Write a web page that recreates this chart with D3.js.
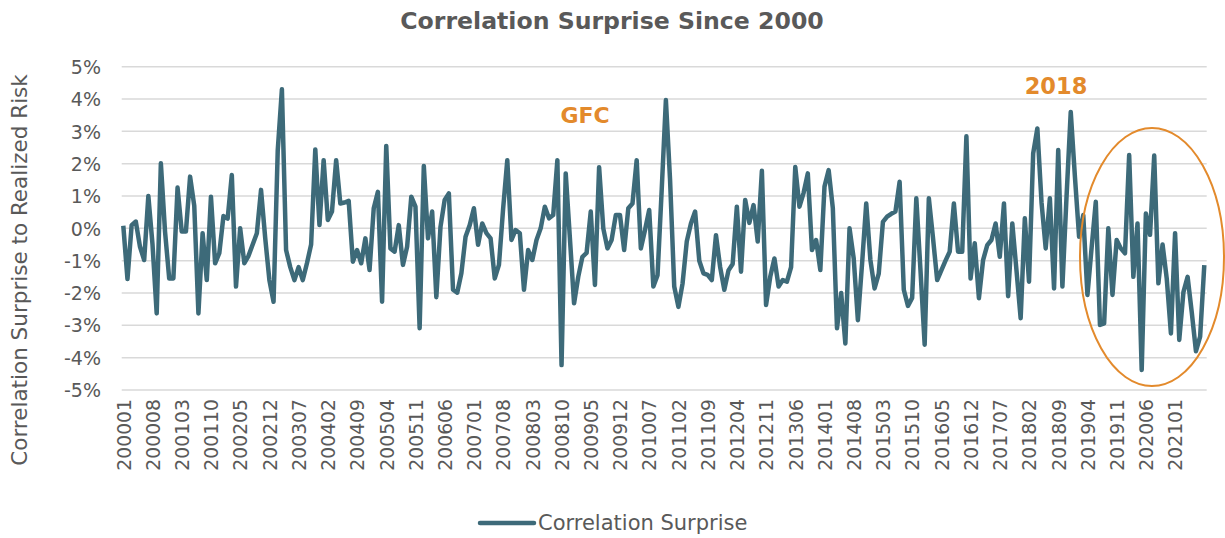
<!DOCTYPE html>
<html>
<head>
<meta charset="utf-8">
<script src="https://cdn.jsdelivr.net/npm/d3@7"></script>
<style>
  body { margin: 0; background: #fff; }
  text { font-family: "DejaVu Sans", Verdana, sans-serif; }
</style>
</head>
<body>
<svg id="chart"></svg>
<script>
// monthly categories 200001 .. 202108
var months = [];
for (var y = 2000; y <= 2021; y++) {
  for (var m = 1; m <= 12; m++) {
    if (y === 2021 && m > 8) break;
    months.push(String(y) + (m < 10 ? "0" + m : m));
  }
}

var tickLabels = ["200001","200008","200103","200110","200205","200212","200307","200402","200409",
  "200504","200511","200606","200701","200708","200803","200810","200905","200912","201007","201102",
  "201109","201204","201211","201306","201401","201408","201503","201510","201605","201612","201707",
  "201802","201809","201904","201911","202006","202101"];

var yTicks = [5, 4, 3, 2, 1, 0, -1, -2, -3, -4, -5];

// correlation surprise, %
var surprise = [
  0.08, -1.57, 0.10, 0.21, -0.57, -0.98, 1.00, -0.50, -2.63, 2.01,
  -0.10, -1.55, -1.55, 1.26, -0.10, -0.10, 1.60, 0.70, -2.63, -0.15,
  -1.60, 0.98, -1.08, -0.77, 0.38, 0.30, 1.65, -1.80, 0.00, -1.08,
  -0.85, -0.50, -0.15, 1.19, -0.30, -1.60, -2.27, 2.40, 4.30, -0.67,
  -1.20, -1.60, -1.20, -1.60, -1.08, -0.50, 2.44, 0.10, 2.11, 0.26,
  0.52, 2.11, 0.77, 0.80, 0.85, -1.03, -0.67, -1.08, -0.31, -1.29,
  0.62, 1.13, -2.27, 2.55, -0.62, -0.72, 0.10, -1.13, -0.57, 0.98,
  0.67, -3.09, 1.93, -0.31, 0.52, -2.13, 0.05, 0.88, 1.08, -1.90,
  -1.99, -1.39, -0.26, 0.10, 0.62, -0.51, 0.15, -0.15, -0.31, -1.55,
  -1.13, 0.60, 2.11, -0.36, -0.05, -0.15, -1.90, -0.67, -0.98, -0.36,
  0.00, 0.67, 0.31, 0.41, 2.11, -4.23, 1.70, -0.30, -2.32, -1.50,
  -0.88, -0.76, 0.52, -1.75, 1.89, 0.00, -0.62, -0.36, 0.41, 0.41,
  -0.67, 0.62, 0.77, 2.11, -0.62, -0.05, 0.57, -1.80, -1.45, 1.20,
  3.97, 1.50, -1.80, -2.43, -1.70, -0.41, 0.15, 0.52, -1.00, -1.39,
  -1.44, -1.60, -0.21, -1.20, -1.90, -1.30, -1.10, 0.67, -1.34, 0.88,
  0.17, 0.72, -0.41, 1.78, -2.37, -1.50, -0.93, -1.80, -1.60, -1.65,
  -1.20, 1.90, 0.67, 1.10, 1.70, -0.67, -0.36, -1.29, 1.29, 1.80,
  0.62, -3.09, -2.00, -3.56, 0.00, -0.93, -2.84, -1.10, 0.77, -0.98,
  -1.86, -1.40, 0.20, 0.36, 0.45, 0.52, 1.44, -1.90, -2.40, -2.15,
  0.93, -1.30, -3.60, 0.93, -0.30, -1.60, -1.30, -1.00, -0.72, 0.77,
  -0.72, -0.72, 2.85, -1.55, -0.46, -2.16, -0.98, -0.52, -0.36, 0.15,
  -0.88, 0.77, -2.10, 0.15, -1.30, -2.78, 0.31, -1.65, 2.32, 3.09,
  0.80, -0.62, 0.93, -1.86, 2.42, -1.80, 1.00, 3.60, 1.60, -0.26,
  0.41, -2.06, -0.60, 0.82, -2.99, -2.94, 0.00, -2.06, -0.36, -0.62,
  -0.77, 2.27, -1.50, 0.15, -4.38, 0.46, -0.20, 2.25, -1.70, -0.50,
  -1.55, -3.25, -0.15, -3.45, -1.97, -1.50, -2.60, -3.80, -3.35, -1.14
];

var data = months.map(function(d, i) { return { month: d, value: surprise[i] }; });

var width = 1225, height = 538;
var lineColor = "#3d6a79";
var noteColor = "#e38a2c";
var textColor = "#595959";

var svg = d3.select("#chart").attr("width", width).attr("height", height);

var x = d3.scalePoint().domain(months).range([123.3, 1204.3]);
var y = d3.scaleLinear().domain([-5, 5]).range([390, 66.7]);

// gridlines
svg.append("g")
  .selectAll("line")
  .data(yTicks)
  .enter().append("line")
  .attr("x1", 121.7).attr("x2", 1206.7)
  .attr("y1", function(d) { return y(d); })
  .attr("y2", function(d) { return y(d); })
  .attr("stroke", "#d9d9d9")
  .attr("stroke-width", 1.5);

// y axis
var yAxis = d3.axisLeft(y)
  .tickValues(yTicks)
  .tickSize(0)
  .tickPadding(0)
  .tickFormat(function(d) { return d + "%"; });

var gy = svg.append("g")
  .attr("transform", "translate(101,0)")
  .call(yAxis);
gy.select(".domain").remove();
gy.selectAll("text")
  .attr("fill", textColor)
  .style("font-size", "19px")
  .attr("dy", "0.35em");

// x axis
var xAxis = d3.axisBottom(x)
  .tickValues(tickLabels)
  .tickSize(0);

var gx = svg.append("g")
  .attr("transform", "translate(0,396)")
  .call(xAxis);
gx.select(".domain").remove();
gx.selectAll("text")
  .attr("fill", textColor)
  .style("font-size", "18.8px")
  .attr("text-anchor", "end")
  .attr("transform", "rotate(-90)")
  .attr("x", -3)
  .attr("y", 0)
  .attr("dy", "0.36em");

// line
var line = d3.line()
  .x(function(d) { return x(d.month); })
  .y(function(d) { return y(d.value); });

svg.append("path")
  .datum(data)
  .attr("d", line)
  .attr("fill", "none")
  .attr("stroke", lineColor)
  .attr("stroke-width", 4.5)
  .attr("stroke-linejoin", "round");

// title
svg.append("text")
  .attr("x", 612)
  .attr("y", 29)
  .attr("text-anchor", "middle")
  .attr("fill", textColor)
  .style("font-size", "23.6px")
  .style("font-weight", "bold")
  .text("Correlation Surprise Since 2000");

// y axis title
svg.append("text")
  .attr("transform", "translate(27,270) rotate(-90)")
  .attr("text-anchor", "middle")
  .attr("fill", textColor)
  .style("font-size", "21.5px")
  .text("Correlation Surprise to Realized Risk");

// annotations
svg.append("text")
  .attr("x", 585)
  .attr("y", 123)
  .attr("text-anchor", "middle")
  .attr("fill", noteColor)
  .style("font-size", "22px")
  .style("font-weight", "bold")
  .text("GFC");

svg.append("text")
  .attr("x", 1056)
  .attr("y", 94)
  .attr("text-anchor", "middle")
  .attr("fill", noteColor)
  .style("font-size", "22.5px")
  .style("font-weight", "bold")
  .text("2018");

svg.append("ellipse")
  .attr("cx", 1152)
  .attr("cy", 257)
  .attr("rx", 72)
  .attr("ry", 129)
  .attr("fill", "none")
  .attr("stroke", noteColor)
  .attr("stroke-width", 2);

// legend
var legend = svg.append("g").attr("transform", "translate(480,523)");
legend.append("line")
  .attr("x1", 0).attr("x2", 54)
  .attr("stroke", lineColor)
  .attr("stroke-width", 4.5)
  .attr("stroke-linecap", "round");
legend.append("text")
  .attr("x", 58)
  .attr("dy", "0.35em")
  .attr("fill", textColor)
  .style("font-size", "21px")
  .text("Correlation Surprise");
</script>
</body>
</html>
